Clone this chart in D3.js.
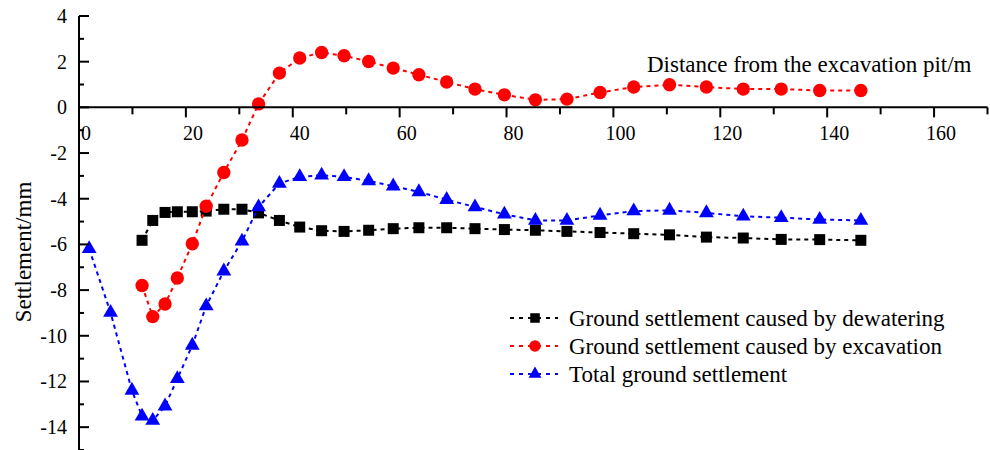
<!DOCTYPE html>
<html>
<head>
<meta charset="utf-8">
<script src="https://cdn.jsdelivr.net/npm/d3@7"></script>
<style>
  body { margin: 0; background: #fff; }
  text { font-family: "Liberation Serif", "Times New Roman", serif; fill: #000; }
</style>
</head>
<body>
<div id="chart"></div>
<script>
// distance from the pit (m), shared by dewatering / excavation series
var distance = [11.8, 13.8, 16.1, 18.4, 21.2, 23.8, 27.1, 30.5, 33.6, 37.5, 41.3, 45.4, 49.6, 54.2,
  58.8, 63.6, 68.8, 74.1, 79.6, 85.4, 91.3, 97.5, 103.8, 110.5, 117.4, 124.3, 131.4, 138.6, 146.3];
// total settlement has three extra points near the pit
var distance_total = [1.9, 5.9, 9.9].concat(distance);

var dewatering = [-5.82, -4.95, -4.60, -4.57, -4.57, -4.54, -4.46, -4.46, -4.62, -4.95, -5.24, -5.40,
  -5.43, -5.38, -5.31, -5.27, -5.27, -5.31, -5.35, -5.38, -5.43, -5.48, -5.53, -5.58, -5.68, -5.72,
  -5.78, -5.79, -5.82];
var excavation = [-7.80, -9.16, -8.61, -7.47, -5.97, -4.33, -2.85, -1.43, 0.15, 1.50, 2.16, 2.40,
  2.26, 2.01, 1.72, 1.43, 1.11, 0.80, 0.55, 0.33, 0.36, 0.65, 0.89, 0.99, 0.89, 0.80, 0.80, 0.74, 0.74];
var total = [-6.19, -8.98, -12.39, -13.52, -13.71, -13.08, -11.88, -10.42, -8.70, -7.17, -5.86, -4.36,
  -3.33, -3.04, -2.97, -3.04, -3.22, -3.45, -3.70, -4.04, -4.36, -4.68, -4.95, -4.95, -4.73, -4.54,
  -4.51, -4.62, -4.77, -4.83, -4.91, -4.95];

var xTicks = [0, 20, 40, 60, 80, 100, 120, 140, 160];
var yTicks = [4, 2, 0, -2, -4, -6, -8, -10, -12, -14];

var seriesNames = ["Ground settlement caused by dewatering",
  "Ground settlement caused by excavation",
  "Total ground settlement"];

var series = [
  { name: seriesNames[0], xs: distance, ys: dewatering, color: "#000000", symbol: d3.symbolSquare, size: 121 },
  { name: seriesNames[1], xs: distance, ys: excavation, color: "#ff0000", symbol: d3.symbolCircle, size: 140 },
  { name: seriesNames[2], xs: distance_total, ys: total, color: "#0000ff", symbol: d3.symbolTriangle, size: 95 }
];

var w = 990, h = 450;

var x = d3.scaleLinear().domain([0, 170]).range([79, 987.5]);
var y = d3.scaleLinear().domain([-15, 4]).range([450, 16]);

var svg = d3.select("#chart")
  .append("svg")
  .attr("width", w)
  .attr("height", h);

// lines + markers
var line = d3.line()
  .x(function(d) { return x(d[0]); })
  .y(function(d) { return y(d[1]); });

series.forEach(function(s) {
  var pts = s.xs.map(function(v, i) { return [v, s.ys[i]]; });
  svg.append("path")
    .datum(pts)
    .attr("d", line)
    .attr("fill", "none")
    .attr("stroke", s.color)
    .attr("stroke-width", 2)
    .attr("stroke-dasharray", "4,4");
  svg.append("g").selectAll("path")
    .data(pts)
    .enter()
    .append("path")
    .attr("d", d3.symbol().type(s.symbol).size(s.size))
    .attr("transform", function(d) { return "translate(" + x(d[0]) + "," + y(d[1]) + ")"; })
    .attr("fill", s.color);
});

// x axis sits on y = 0, ticks pointing down
var xAxis = svg.append("g")
  .attr("transform", "translate(0," + y(0) + ")");
xAxis.append("line")
  .attr("x1", x(0)).attr("x2", x(170))
  .attr("stroke", "#000").attr("stroke-width", 2);
xAxis.selectAll(".minor")
  .data(d3.range(10, 171, 20))
  .enter().append("line")
  .attr("x1", function(d) { return x(d); }).attr("x2", function(d) { return x(d); })
  .attr("y1", 0).attr("y2", 7)
  .attr("stroke", "#000").attr("stroke-width", 2);
xAxis.selectAll(".major")
  .data(xTicks)
  .enter().append("line")
  .attr("x1", function(d) { return x(d); }).attr("x2", function(d) { return x(d); })
  .attr("y1", 0).attr("y2", 10)
  .attr("stroke", "#000").attr("stroke-width", 2);
xAxis.selectAll("text")
  .data(xTicks)
  .enter().append("text")
  .attr("x", function(d) { return x(d) + 7; })
  .attr("y", 33)
  .attr("text-anchor", "middle")
  .style("font-size", "20px")
  .text(function(d) { return d; });

// y axis
var yAxis = svg.append("g");
yAxis.selectAll(".minor")
  .data(d3.range(-15, 4, 2))
  .enter().append("line")
  .attr("x1", x(0)).attr("x2", x(0) + 5)
  .attr("y1", function(d) { return y(d); }).attr("y2", function(d) { return y(d); })
  .attr("stroke", "#000").attr("stroke-width", 2);
yAxis.selectAll(".major")
  .data(yTicks)
  .enter().append("line")
  .attr("x1", x(0)).attr("x2", x(0) + 10)
  .attr("y1", function(d) { return y(d); }).attr("y2", function(d) { return y(d); })
  .attr("stroke", "#000").attr("stroke-width", 2);
yAxis.selectAll("text")
  .data(yTicks)
  .enter().append("text")
  .attr("x", 67)
  .attr("y", function(d) { return y(d); })
  .attr("dy", "0.35em")
  .attr("text-anchor", "end")
  .style("font-size", "20px")
  .text(function(d) { return d; });
yAxis.append("line")
  .attr("x1", x(0)).attr("x2", x(0))
  .attr("y1", y(4)).attr("y2", y(-15))
  .attr("stroke", "#000").attr("stroke-width", 2);

// axis titles
svg.append("text")
  .attr("x", 647)
  .attr("y", 72)
  .style("font-size", "23px")
  .text("Distance from the excavation pit/m");

svg.append("text")
  .attr("transform", "translate(31,252) rotate(-90)")
  .attr("text-anchor", "middle")
  .style("font-size", "23px")
  .text("Settlement/mm");

// legend
var legendTop = 318, legendHeight = 28;
var legend = svg.selectAll(".legend")
  .data(series)
  .enter()
  .append("g")
  .attr("class", "legend")
  .attr("transform", function(d, i) { return "translate(510," + (legendTop + i * legendHeight) + ")"; });
legend.append("line")
  .attr("x1", 0).attr("x2", 48)
  .attr("stroke", function(d) { return d.color; })
  .attr("stroke-width", 2)
  .attr("stroke-dasharray", "4,5");
legend.append("path")
  .attr("d", function(d) { return d3.symbol().type(d.symbol).size(d.size * 0.75)(); })
  .attr("transform", "translate(25,0)")
  .attr("fill", function(d) { return d.color; });
legend.append("text")
  .attr("x", 59)
  .attr("dy", "0.33em")
  .style("font-size", "23px")
  .text(function(d) { return d.name; });
</script>
</body>
</html>
